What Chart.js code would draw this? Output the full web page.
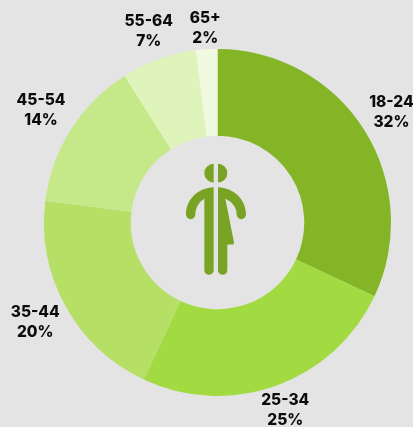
<!DOCTYPE html>
<html>
<head>
<meta charset="utf-8">
<style>
html, body { margin: 0; padding: 0; background: #e4e4e4; }
#wrap { width: 413px; height: 427px; }
</style>
</head>
<body>
<div id="wrap"><canvas id="ageChart"></canvas></div>
<script src="https://cdn.jsdelivr.net/npm/chart.js@4"></script>
<script>
const ageGroups = ['18-24', '25-34', '35-44', '45-54', '55-64', '65+'];
const shares = [32, 25, 20, 14, 7, 2];
const sliceColors = ['#84b527', '#a2da42', '#b5e065', '#c5e888', '#dff4bb', '#f1fae0'];
// distance of each label from the ring, px
const labelGaps = [32.5, 26.5, 34.5, 35.5, 29.5, 21.5];

const sliceLabels = {
    id: 'sliceLabels',
    afterDatasetsDraw(chart) {
        const { ctx } = chart;
        ctx.save();
        ctx.fillStyle = '#0c0c0c';
        ctx.font = '800 15.5px Inter';
        ctx.textAlign = 'center';
        ctx.textBaseline = 'middle';
        chart.getDatasetMeta(0).data.forEach((arc, i) => {
            const angle = (arc.startAngle + arc.endAngle) / 2;
            const r = arc.outerRadius + labelGaps[i];
            const x = arc.x + Math.cos(angle) * r;
            const y = arc.y + Math.sin(angle) * r;
            ctx.fillText(ageGroups[i], x, y - 10);
            ctx.fillText(`${shares[i]}%`, x, y + 10);
        });
        ctx.restore();
    }
};

// person icon in the hole, half man / half woman
const centerIcon = {
    id: 'centerIcon',
    afterDatasetsDraw(chart) {
        const { ctx } = chart;
        const arc = chart.getDatasetMeta(0).data[0];
        ctx.save();
        ctx.translate(arc.x - 67.5, arc.y - 92);
        ctx.scale(1 / 3, 1 / 3);
        ctx.fillStyle = '#78a324';
        const icon = new Path2D(
            'M191 100 A28 28 0 0 0 191 156 Z' +
            'M204 100 A28 28 0 0 1 204 156 Z' +
            'M191 170 C145 172 108 205 108 252 A14 14 0 0 0 136 252 C136 235 145 215 163 205 L163 419 A14 14 0 0 0 191 419 Z' +
            'M204 170 C250 172 288 205 288 252 A14 14 0 0 1 260 252 C260 235 250 215 226 205 L252 335 Q253 342 246 342 L232 342 L232 419 A14 14 0 0 1 204 419 Z'
        );
        ctx.fill(icon);
        ctx.restore();
    }
};

new Chart(document.getElementById('ageChart'), {
    type: 'doughnut',
    data: {
        labels: ageGroups,
        datasets: [
            {
                data: shares,
                backgroundColor: sliceColors,
                borderWidth: 0,
                hoverOffset: 0
            }
        ]
    },
    options: {
        responsive: true,
        maintainAspectRatio: false,
        animation: false,
        cutout: '50%',
        layout: {
            padding: { left: 44, right: 22, top: 49, bottom: 31 }
        },
        plugins: {
            legend: { display: false },
            tooltip: { enabled: false }
        }
    },
    plugins: [sliceLabels, centerIcon]
});
</script>
</body>
</html>
